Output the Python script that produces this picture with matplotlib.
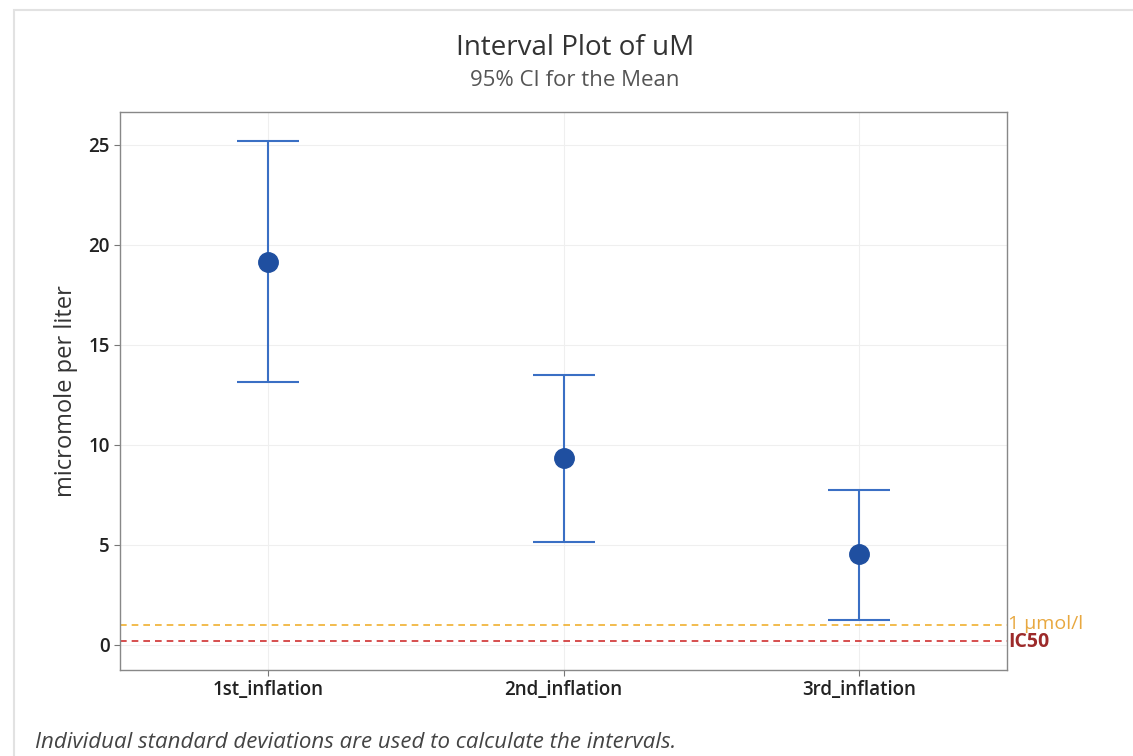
import matplotlib
matplotlib.use("Agg")
import matplotlib.pyplot as plt
from matplotlib.patches import Rectangle

categories = ["1st_inflation", "2nd_inflation", "3rd_inflation"]
means = [19.15, 9.35, 4.55]
lower = [13.15, 5.15, 1.25]
upper = [25.2, 13.5, 7.75]
ref_values = [1.0, 0.2]
ref_labels = ["1 µmol/l", "IC50"]
ref_colors = ["#f0b030", "#d03030"]
ref_text_colors = ["#e8a840", "#9c2a2a"]
yticks = [0, 5, 10, 15, 20, 25]

plt.rcParams["font.family"] = ["Open Sans", "DejaVu Sans"]

fig = plt.figure(figsize=(11.33, 7.56), dpi=100)
fig.patches.append(Rectangle((14 / 1133, -0.05), 1.2, 1 - 10 / 756 + 0.05,
                             transform=fig.transFigure, fill=False,
                             edgecolor="#e2e2e2", linewidth=1.5))
ax = fig.add_axes([120 / 1133, 1 - 670 / 756, 887 / 1133, 558 / 756])

x = list(range(len(categories)))
yerr = [[m - lo for m, lo in zip(means, lower)], [u - m for m, u in zip(means, upper)]]
ax.errorbar(x, means, yerr=yerr, fmt="none", ecolor="#3a6fc4", elinewidth=1.5,
            capsize=22.5, capthick=1.5, zorder=3)
ax.plot(x, means, "o", color="#1f4fa0", markersize=14, zorder=4)

for v, lab, c, tc in zip(ref_values, ref_labels, ref_colors, ref_text_colors):
    ax.axhline(v, color=c, linestyle=(0, (4, 3)), linewidth=1.2, zorder=2)
    ax.annotate(lab, xy=(1.0, v), xycoords=("axes fraction", "data"),
                xytext=(1, 1 if lab != "IC50" else -1), textcoords="offset points",
                va="center", ha="left", color=tc, fontsize=14,
                fontweight="bold" if lab == "IC50" else "normal",
                annotation_clip=False)

ax.set_xlim(-0.5, 2.5)
ax.set_ylim(-1.25, 26.65)
ax.set_xticks(x)
ax.set_xticklabels(categories, fontsize=13.5, fontweight="semibold", color="#222222")
ax.set_yticks(yticks)
ax.set_yticklabels([str(t) for t in yticks], fontsize=13.5, fontweight="semibold", color="#222222")
ax.tick_params(axis="both", length=4, color="#777777")
ax.grid(True, color="#efefef", linewidth=0.8)
ax.set_axisbelow(True)
for s in ax.spines.values():
    s.set_color("#888888")
    s.set_linewidth(1.0)
ax.set_ylabel("micromole per liter", fontsize=17, color="#333333", labelpad=7,
              fontweight="medium")

fig.text(575 / 1133, 1 - 48 / 756, "Interval Plot of uM", ha="center", va="center",
         fontsize=20, color="#333333", fontweight="medium")
fig.text(575 / 1133, 1 - 80 / 756, "95% CI for the Mean", ha="center", va="center",
         fontsize=16, color="#555555")
fig.text(35 / 1133, 1 - 742 / 756,
         "Individual standard deviations are used to calculate the intervals.",
         ha="left", va="center", fontsize=16, style="italic", color="#444444")

fig.savefig("out.png", dpi=100)
